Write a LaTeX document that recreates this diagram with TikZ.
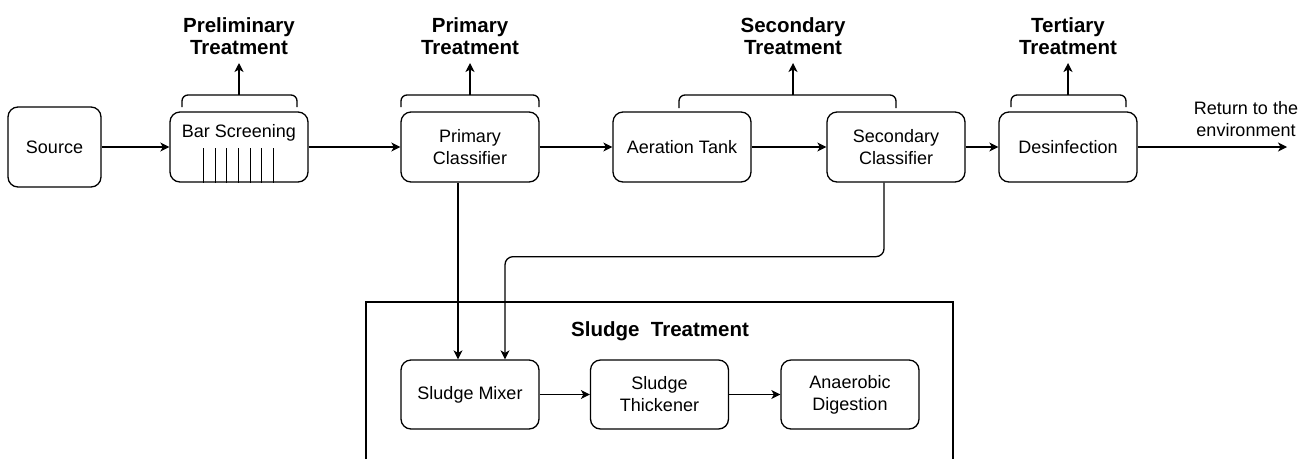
\documentclass[tikz,border=0pt]{standalone}
\usepackage{fontspec}
\setmainfont{Liberation Sans}
\usetikzlibrary{arrows.meta,calc}
\begin{document}
\begin{tikzpicture}[x=1pt,y=-1pt,
  line width=1.3pt,
  box/.style={draw, rounded corners=10pt, minimum width=138pt, minimum height=70pt,
    align=center, inner sep=2pt, font=\fontsize{18}{22}\selectfont},
  flow/.style={-{Stealth[length=9pt,width=9pt,inset=2.5pt]}},
  stage/.style={font=\fontsize{20.5}{22}\selectfont\bfseries, align=center,
    inner sep=7.7pt, anchor=south},
  brace/.style={rounded corners=6pt},
  plain/.style={font=\fontsize{18}{22}\selectfont, align=center, inner sep=0pt},
  screenbar/.style={line width=1pt},
]
\useasboundingbox (0,0) rectangle (1306,459);

% main treatment line
\node[box, minimum width=93pt, minimum height=80pt] (src) at (54.5,147) {Source};
\node[box, text height=25pt, text depth=45pt, inner ysep=0pt] (bar) at (239,147) {Bar Screening};
\foreach \i in {0,...,6}
  \draw[screenbar] ([xshift=34pt+\i*11.67pt]bar.south west) -- ++(0,-35);
\node[box] (pc)  at (470,147)  {Primary\\Classifier};
\node[box] (aer) at (682,147)  {Aeration Tank};
\node[box] (sc)  at (896,147)  {Secondary\\Classifier};
\node[box] (des) at (1068,147) {Desinfection};

\draw[flow] (src) -- (bar);
\draw[flow] (bar) -- (pc);
\draw[flow] (pc) -- (aer);
\draw[flow] (aer) -- (sc);
\draw[flow] (sc) -- (des);

\coordinate (out) at (1287,147);
\draw[flow] (des) -- (out);
\node[plain] (ret) at (1246,119) {Return to the\\environment};

% treatment stages
\draw[brace] (182,107) -- (182,95) -- (297,95) -- (297,107);
\coordinate (b1) at (239,95);
\node[stage] (l1) at (239,63) {Preliminary\\Treatment};
\draw[flow] (b1) -- (l1);

\draw[brace] (401,107) -- (401,95) -- (539,95) -- (539,107);
\coordinate (b2) at (470,95);
\node[stage] (l2) at (470,63) {Primary\\Treatment};
\draw[flow] (b2) -- (l2);

\draw[brace] (679,108) -- (679,95) -- (896,95) -- (896,108);
\coordinate (b3) at (793,95);
\node[stage] (l3) at (793,63) {Secondary\\Treatment};
\draw[flow] (b3) -- (l3);

\draw[brace] (1011,107) -- (1011,95) -- (1126,95) -- (1126,107);
\coordinate (b4) at (1068,95);
\node[stage] (l4) at (1068,63) {Tertiary\\Treatment};
\draw[flow] (b4) -- (l4);

% sludge treatment
\draw[line width=1.1pt] (366,459) -- (366,302) -- (953,302) -- (953,459);
\node[font=\fontsize{20.5}{22}\selectfont\bfseries, anchor=base, inner sep=0pt] (slt) at (660,336) {Sludge\ \ Treatment};

\node[box, minimum height=69pt] (sm) at (470,394.5) {Sludge Mixer};
\node[box, minimum height=69pt] (st) at (659.5,394.5) {Sludge\\Thickener};
\node[box, minimum height=69pt] (ad) at (850,394.5) {Anaerobic\\Digestion};

\draw[flow] (sm) -- (st);
\draw[flow] (st) -- (ad);

\draw[flow] ([xshift=-12pt]pc.south) -- ([xshift=-12pt]sm.north);
\draw[flow, rounded corners=8pt] ([xshift=-12pt]sc.south) -- ++(0,74) -| ([xshift=35pt]sm.north);
\end{tikzpicture}
\end{document}
